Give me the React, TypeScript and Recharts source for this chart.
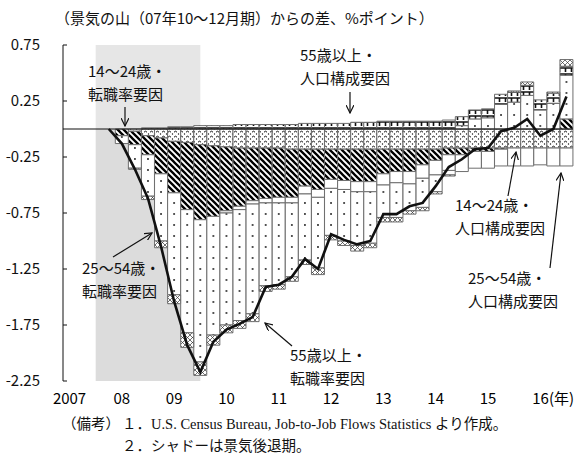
import React from "react";
import {
  Bar,
  ComposedChart,
  Line,
  ReferenceArea,
  ReferenceLine,
  XAxis,
  YAxis,
} from "recharts";

// 2007Q1 - 2016Q3
const quarters = [
  "07Q1", "07Q2", "07Q3", "07Q4",
  "08Q1", "08Q2", "08Q3", "08Q4",
  "09Q1", "09Q2", "09Q3", "09Q4",
  "10Q1", "10Q2", "10Q3", "10Q4",
  "11Q1", "11Q2", "11Q3", "11Q4",
  "12Q1", "12Q2", "12Q3", "12Q4",
  "13Q1", "13Q2", "13Q3", "13Q4",
  "14Q1", "14Q2", "14Q3", "14Q4",
  "15Q1", "15Q2", "15Q3", "15Q4",
  "16Q1", "16Q2", "16Q3",
];

const yearTicks = ["07Q1", "08Q1", "09Q1", "10Q1", "11Q1", "12Q1", "13Q1", "14Q1", "15Q1", "16Q1"];
const yearLabels = ["2007", "08", "09", "10", "11", "12", "13", "14", "15", "16"];
const yTicks = [0.75, 0.25, -0.25, -0.75, -1.25, -1.75, -2.25];

// 14～24歳・人口構成要因
const youthComp = [null, null, null, null,
  0, -0.02, -0.06, -0.08, -0.11, -0.12, -0.14, -0.15, -0.16, -0.17, -0.17, -0.17,
  -0.17, -0.18, -0.18, -0.18, -0.18, -0.18, -0.18, -0.18, -0.18, -0.18, -0.18, -0.18,
  -0.18, -0.17, -0.17, -0.17, -0.17, -0.17, -0.17, -0.17, -0.17, -0.17, -0.17];
// 14～24歳・転職率要因
const youthRate = [null, null, null, null,
  -0.06, -0.12, -0.17, -0.32, -0.46, -0.6, -0.67, -0.63, -0.57, -0.52, -0.47, -0.45,
  -0.44, -0.43, -0.33, -0.36, -0.27, -0.28, -0.29, -0.29, -0.22, -0.2, -0.2, -0.14,
  -0.1, -0.06, -0.06, -0.03, -0.03, -0.01, 0, 0, 0, 0, 0.09];
// 25～54歳・人口構成要因
const primeComp = [null, null, null, null,
  0, 0, 0, 0, 0, 0, 0, 0, -0.02, -0.03, -0.03, -0.04,
  -0.05, -0.05, -0.07, -0.07, -0.08, -0.08, -0.09, -0.09, -0.1, -0.1, -0.11, -0.12,
  -0.13, -0.14, -0.15, -0.15, -0.15, -0.15, -0.16, -0.16, -0.15, -0.16, -0.16];
// 25～54歳・転職率要因
const primeRate = [null, null, null, null,
  -0.07, -0.21, -0.37, -0.6, -0.91, -1.1, -1.27, -1.06, -1.0, -0.99, -0.98, -0.74,
  -0.73, -0.66, -0.59, -0.63, -0.42, -0.46, -0.48, -0.46, -0.29, -0.31, -0.24, -0.26,
  -0.15, -0.04, 0.03, 0.09, 0.1, 0.22, 0.24, 0.3, 0.17, 0.23, 0.39];
// 55歳以上・人口構成要因
const olderComp = [null, null, null, null,
  0, 0, 0.01, 0.01, 0.02, 0.02, 0.03, 0.03, 0.03, 0.04, 0.04, 0.04,
  0.04, 0.04, 0.05, 0.05, 0.05, 0.05, 0.06, 0.06, 0.07, 0.07, 0.07, 0.07,
  0.07, 0.08, 0.08, 0.08, 0.08, 0.09, 0.09, 0.09, 0.09, 0.09, 0.08];
// 55歳以上・転職率要因
const olderRate = [null, null, null, null,
  0, -0.01, -0.03, -0.06, -0.08, -0.13, -0.12, -0.09, -0.07, -0.07, -0.07, -0.05,
  -0.04, -0.04, -0.04, -0.06, -0.04, -0.04, -0.05, -0.04, -0.04, -0.04, -0.03, -0.03,
  -0.02, -0.01, 0, 0, 0, 0, 0.01, 0.03, 0, 0.01, 0.06];
// 合計（景気の山からの差）
const total = [null, null, null, 0,
  -0.13, -0.36, -0.62, -1.05, -1.54, -1.93, -2.17, -1.9, -1.79, -1.74, -1.68, -1.41,
  -1.39, -1.32, -1.16, -1.25, -0.94, -0.99, -1.03, -1.0, -0.76, -0.76, -0.69, -0.66,
  -0.51, -0.34, -0.27, -0.18, -0.17, -0.02, 0.01, 0.09, -0.06, 0.0, 0.29];

const data = quarters.map((q, i) => ({
  q,
  youthComp: youthComp[i],
  youthRate: youthRate[i],
  primeComp: primeComp[i],
  primeRate: primeRate[i],
  olderComp: olderComp[i],
  olderRate: olderRate[i],
  total: total[i],
}));

const W = 586;
const H = 458;
const MARGIN = { top: 45, right: 13, bottom: 52, left: 0 };
const Y_AXIS_W = 63;
const PLOT_L = MARGIN.left + Y_AXIS_W;
const PLOT_W = W - PLOT_L - MARGIN.right;
const BAND = PLOT_W / quarters.length;
const FONT = "'Noto Sans CJK JP', 'Noto Sans', sans-serif";
const SERIF = "'Liberation Serif', 'Noto Sans CJK JP', serif";
const OUTLINE = "#6e6e6e";

function Shade(props: any) {
  const { x, y, width, height, fill } = props;
  return <rect x={x + BAND / 2} y={y} width={width - BAND} height={height} fill={fill} />;
}

function XTick(props: any) {
  const { x, y, payload } = props;
  const i = yearTicks.indexOf(payload.value);
  const last = i === yearTicks.length - 1;
  return (
    <text
      x={last ? x - 8 : x}
      y={y}
      dy={15}
      textAnchor={last ? "start" : "middle"}
      fontSize={15}
      fontFamily={FONT}
      fill="#000"
    >
      {last ? `${yearLabels[i]}(年)` : yearLabels[i]}
    </text>
  );
}

function Patterns() {
  return (
    <svg width={0} height={0} style={{ position: "absolute" }}>
      <defs>
        <pattern id="pWave" patternUnits="userSpaceOnUse" width={6} height={5}>
          <rect width={6} height={5} fill="#fff" />
          <path d="M0,2.2 q1.5,-2 3,0" stroke="#111" strokeWidth={1} fill="none" />
          <circle cx={4.5} cy={4} r={0.7} fill="#111" />
        </pattern>
        <pattern id="pHatch" patternUnits="userSpaceOnUse" width={6} height={6}>
          <rect width={6} height={6} fill="#fff" />
          <path d="M-1,-1 L7,7 M-1,5 L1,7 M5,-1 L7,1" stroke="#000" strokeWidth={2.3} />
        </pattern>
        <pattern id="pDot" patternUnits="userSpaceOnUse" x={PLOT_L} y={0} width={BAND} height={11}>
          <rect width={BAND} height={11} fill="#fff" />
          <circle cx={BAND / 2} cy={5} r={0.9} fill="#111" />
        </pattern>
        <pattern id="pBrick" patternUnits="userSpaceOnUse" width={6} height={6}>
          <rect width={6} height={6} fill="#fff" />
          <path d="M0,2 L6,2 M1.5,2 L1.5,6" stroke="#111" strokeWidth={1.6} />
        </pattern>
        <pattern id="pCross" patternUnits="userSpaceOnUse" width={5} height={5}>
          <rect width={5} height={5} fill="#fff" />
          <path d="M0,0 L5,5 M5,0 L0,5" stroke="#333" strokeWidth={0.7} />
        </pattern>
        <marker id="arr" markerWidth={9} markerHeight={8} refX={8} refY={4} orient="auto" markerUnits="userSpaceOnUse">
          <path d="M0,0 L8,4 L0,8" fill="none" stroke="#111" strokeWidth={1.2} />
        </marker>
      </defs>
    </svg>
  );
}

function Note({ x, y, lines }: { x: number; y: number; lines: string[] }) {
  return (
    <text x={x} y={y} fontSize={15} fontFamily={FONT} fill="#111">
      {lines.map((l, i) => (
        <tspan key={i} x={x} dy={i === 0 ? 0 : 23}>
          {l}
        </tspan>
      ))}
    </text>
  );
}

function Overlay() {
  return (
    <svg width={W} height={H} style={{ position: "absolute", left: 0, top: 0, pointerEvents: "none" }}>
      <text x={55} y={24} fontSize={15} fontFamily={FONT} fill="#111">
        （景気の山（07年10～12月期）からの差、%ポイント）
      </text>

      <Note x={88} y={77} lines={["14～24歳・", "転職率要因"]} />
      <line x1={125} y1={107} x2={125} y2={126} stroke="#111" strokeWidth={1.2} markerEnd="url(#arr)" />

      <Note x={82} y={274} lines={["25～54歳・", "転職率要因"]} />
      <line x1={113} y1={257} x2={152} y2={233} stroke="#111" strokeWidth={1.2} markerEnd="url(#arr)" />

      <Note x={290} y={361} lines={["55歳以上・", "転職率要因"]} />
      <line x1={292} y1={346} x2={265} y2={323} stroke="#111" strokeWidth={1.2} markerEnd="url(#arr)" />

      <Note x={300} y={61} lines={["55歳以上・", "人口構成要因"]} />
      <line x1={350} y1={92} x2={350} y2={113} stroke="#111" strokeWidth={1.2} markerEnd="url(#arr)" />

      <Note x={455} y={211} lines={["14～24歳・", "人口構成要因"]} />
      <line x1={508} y1={196} x2={516} y2={152} stroke="#111" strokeWidth={1.2} markerEnd="url(#arr)" />

      <Note x={468} y={284} lines={["25～54歳・", "人口構成要因"]} />
      <line x1={550} y1={268} x2={561} y2={173} stroke="#111" strokeWidth={1.2} markerEnd="url(#arr)" />

      <text x={62} y={429} fontSize={14.5} fontFamily={SERIF} fill="#111">
        （備考）
      </text>
      <text x={122} y={429} fontSize={14.5} fontFamily={SERIF} fill="#111">
        １．U.S. Census Bureau, Job-to-Job Flows Statistics より作成。
      </text>
      <text x={122} y={451} fontSize={14.5} fontFamily={SERIF} fill="#111">
        ２．シャドーは景気後退期。
      </text>
    </svg>
  );
}

export default function App() {
  return (
    <div style={{ position: "absolute", left: 0, top: 0, width: W, height: H, background: "#fff" }}>
      <Patterns />
      <ComposedChart
        width={W}
        height={H}
        data={data}
        margin={MARGIN}
        barCategoryGap={0}
        stackOffset="sign"
      >
        <ReferenceArea x1="07Q3" x2="09Q3" y1={0} y2={0.75} fill="#e6e6e6" fillOpacity={1} shape={<Shade />} />
        <ReferenceArea x1="07Q3" x2="09Q3" y1={-2.25} y2={0} fill="#dcdcdc" fillOpacity={1} shape={<Shade />} />
        <ReferenceLine y={0} stroke="#111" strokeWidth={1.2} />
        <XAxis
          dataKey="q"
          ticks={yearTicks}
          interval={0}
          tick={<XTick />}
          axisLine={false}
          tickLine={false}
          height={25}
        />
        <YAxis
          domain={[-2.25, 0.75]}
          ticks={yTicks}
          interval={0}
          width={Y_AXIS_W}
          tickSize={-4}
          tickMargin={27}
          axisLine={{ stroke: "#111" }}
          tickLine={{ stroke: "#111" }}
          tick={{ fontSize: 15, fill: "#111", fontFamily: FONT }}
          tickFormatter={(v: number) => v.toFixed(2)}
        />
        <Bar dataKey="youthComp" stackId="s" fill="url(#pWave)" stroke={OUTLINE} strokeWidth={1} isAnimationActive={false} />
        <Bar dataKey="youthRate" stackId="s" fill="url(#pHatch)" stroke={OUTLINE} strokeWidth={1} isAnimationActive={false} />
        <Bar dataKey="primeComp" stackId="s" fill="#fff" stroke={OUTLINE} strokeWidth={1} isAnimationActive={false} />
        <Bar dataKey="primeRate" stackId="s" fill="url(#pDot)" stroke={OUTLINE} strokeWidth={1} isAnimationActive={false} />
        <Bar dataKey="olderComp" stackId="s" fill="url(#pBrick)" stroke={OUTLINE} strokeWidth={1} isAnimationActive={false} />
        <Bar dataKey="olderRate" stackId="s" fill="url(#pCross)" stroke={OUTLINE} strokeWidth={1} isAnimationActive={false} />
        <Line
          dataKey="total"
          type="linear"
          stroke="#111"
          strokeWidth={2.6}
          dot={false}
          isAnimationActive={false}
        />
      </ComposedChart>
      <Overlay />
    </div>
  );
}
